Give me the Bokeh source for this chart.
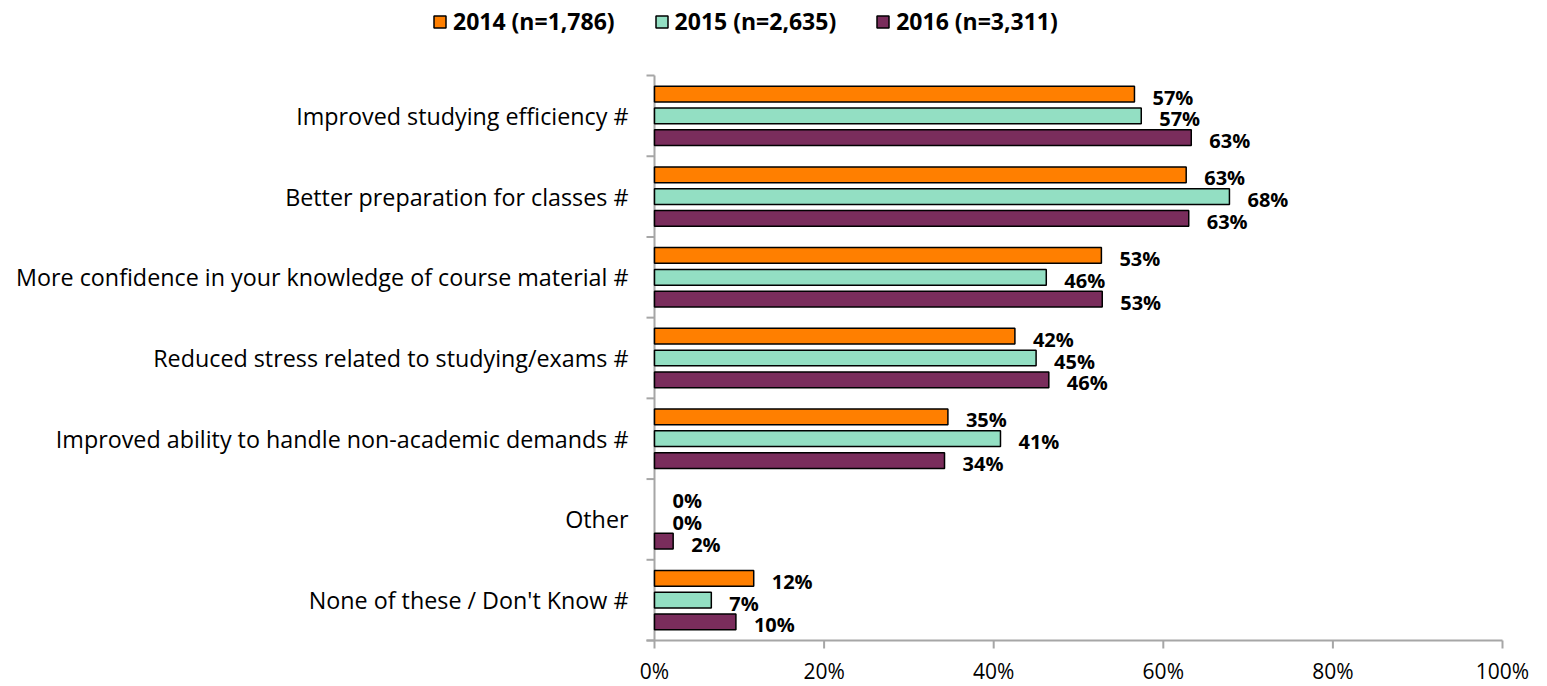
from bokeh.plotting import figure
from bokeh.models import ColumnDataSource, Legend, LegendItem, Range1d
from bokeh.embed import file_html
from bokeh.resources import INLINE
from bokeh.core.properties import value

categories = [
    "Improved studying efficiency #",
    "Better preparation for classes #",
    "More confidence in your knowledge of course material #",
    "Reduced stress related to studying/exams #",
    "Improved ability to handle non-academic demands #",
    "Other",
    "None of these / Don't Know #",
]
series_names = ["2014 (n=1,786)", "2015 (n=2,635)", "2016 (n=3,311)"]
v2014 = [56.6, 62.7, 52.7, 42.5, 34.6, 0.0, 11.7]
v2015 = [57.4, 67.8, 46.2, 45.0, 40.8, 0.0, 6.7]
v2016 = [63.3, 63.0, 52.8, 46.5, 34.2, 2.2, 9.6]
labels2014 = ["57%", "63%", "53%", "42%", "35%", "0%", "12%"]
labels2015 = ["57%", "68%", "46%", "45%", "41%", "0%", "7%"]
labels2016 = ["63%", "63%", "53%", "46%", "34%", "2%", "10%"]
x_ticks = [0, 20, 40, 60, 80, 100]
x_tick_labels = ["0%", "20%", "40%", "60%", "80%", "100%"]

colors = ["#FF7F00", "#93DFC3", "#7A2D5C"]
FONT = "Open Sans"
AXIS_COLOR = "#A6A6A6"

# layout (pixels in the figure)
W, H = 1539, 686
X0_PX, X100_PX = 654, 1502
YTOP_PX, YBOT_PX = 75, 640
n = len(categories)
xs = (X100_PX - X0_PX) / 100.0
ys_ = (YBOT_PX - YTOP_PX) / n

p = figure(width=W, height=H, output_backend="svg", toolbar_location=None,
           x_range=Range1d(-X0_PX / xs, (W - X0_PX) / xs),
           y_range=Range1d(-(H - YBOT_PX) / ys_, n + YTOP_PX / ys_),
           x_axis_location=None, y_axis_location=None)
p.min_border = 0
p.min_border_left = 0
p.min_border_right = 0
p.min_border_top = 0
p.min_border_bottom = 0
p.outline_line_color = None
p.grid.grid_line_color = None
p.background_fill_color = "white"
p.border_fill_color = "white"

# axes drawn as segments
tick_x = 8 / xs
tick_y = 8 / ys_
p.segment(x0=[0], y0=[0], x1=[0], y1=[n], line_color=AXIS_COLOR, line_width=2)
p.segment(x0=[-tick_x], y0=[0], x1=[100], y1=[0], line_color=AXIS_COLOR, line_width=2)
bounds = list(range(n + 1))
p.segment(x0=[-tick_x] * len(bounds), y0=bounds, x1=[0] * len(bounds), y1=bounds,
          line_color=AXIS_COLOR, line_width=2)
p.segment(x0=x_ticks, y0=[0] * len(x_ticks), x1=x_ticks, y1=[-tick_y] * len(x_ticks),
          line_color=AXIS_COLOR, line_width=2)
p.text(x=x_ticks, y=[0] * len(x_ticks), text=x_tick_labels, y_offset=30,
       text_align="center", text_baseline="middle", text_font=value(FONT),
       text_font_size="21px", text_color="black")

cat_y = [n - 0.5 - i for i in range(n)]
p.text(x=[0] * n, y=cat_y, text=categories, x_offset=-26, text_align="right",
       text_baseline="middle", text_font=value(FONT), text_font_size="23.3px",
       text_color="black")

offsets = [0.27, 0.0, -0.27]
bar_h = 0.195
all_vals = [v2014, v2015, v2016]
all_labels = [labels2014, labels2015, labels2016]
for k, (vals, labs) in enumerate(zip(all_vals, all_labels)):
    yk = [c + offsets[k] for c in cat_y]
    lc = ["black" if v > 0 else None for v in vals]
    src = ColumnDataSource(dict(y=yk, right=vals, lab=labs, lc=lc))
    p.hbar(y="y", left=0, right="right", height=bar_h, source=src,
           fill_color=colors[k], line_color="lc", line_width=1.5)
    p.text(x="right", y="y", text="lab", source=src, x_offset=18, y_offset=3,
           text_align="left", text_baseline="middle", text_font=value(FONT),
           text_font_style="bold", text_font_size="20px", text_color="black")

# legend proxies (nothing drawn in the plot, outlined swatch in the legend)
proxies = []
for k in range(3):
    proxies.append(p.hbar(y=[float("nan")], left=[0], right=[1], height=1, fill_color=colors[k],
                          line_color="black", line_width=1.5))

legend = Legend(items=[LegendItem(label=s, renderers=[r]) for s, r in zip(series_names, proxies)],
                orientation="horizontal", location=(432, H - 37))
legend.label_text_font = FONT
legend.label_text_font_style = "bold"
legend.label_text_font_size = "23px"
legend.label_text_color = "black"
legend.glyph_width = 15
legend.glyph_height = 15
legend.label_standoff = 6
legend.spacing = 39
legend.border_line_color = None
legend.background_fill_alpha = 0
legend.padding = 0
legend.margin = 0
p.add_layout(legend, "center")

open("out.html", "w").write(file_html(p, INLINE))
